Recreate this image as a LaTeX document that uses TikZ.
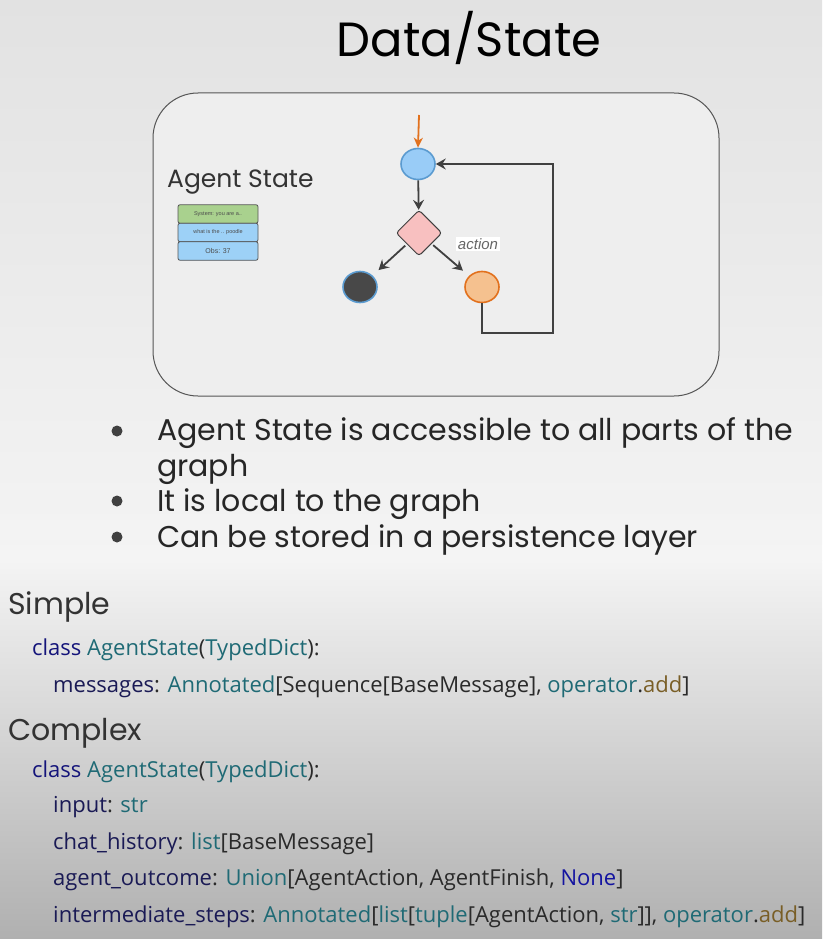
\documentclass[tikz,border=0pt]{standalone}
\usepackage{fontspec}
\setmainfont{Poppins}
\newfontfamily\codefont{Open Sans}
\newfontfamily\arialfont{Liberation Sans}
\usetikzlibrary{shapes.geometric,arrows.meta}
\definecolor{bgtop}{HTML}{E2E2E2}
\definecolor{bgmid}{HTML}{F4F4F4}
\definecolor{bgbot}{HTML}{B0B0B0}
\definecolor{boxfill}{HTML}{EEEEEE}
\definecolor{boxline}{HTML}{555555}
\definecolor{msggreen}{HTML}{A9D18E}
\definecolor{msgblue}{HTML}{9DD1F7}
\definecolor{nodeblue}{HTML}{99CCF7}
\definecolor{nodeblueline}{HTML}{5B9BD0}
\definecolor{nodepink}{HTML}{F8C0C0}
\definecolor{nodedark}{HTML}{484848}
\definecolor{nodeorange}{HTML}{F5C18F}
\definecolor{orangeline}{HTML}{E2711D}
\definecolor{arrowgray}{HTML}{404040}
\definecolor{ckw}{HTML}{14147A}
\definecolor{cty}{HTML}{1F6A75}
\definecolor{cvar}{HTML}{1A1A55}
\definecolor{cfn}{HTML}{795E26}
\definecolor{cnone}{HTML}{1414A0}
\definecolor{cplain}{HTML}{2A2A2A}
\newcommand{\kw}[1]{\textcolor{ckw}{#1}}
\newcommand{\ty}[1]{\textcolor{cty}{#1}}
\newcommand{\va}[1]{\textcolor{cvar}{#1}}
\newcommand{\fn}[1]{\textcolor{cfn}{#1}}
\newcommand{\nn}[1]{\textcolor{cnone}{#1}}
\begin{document}
\begin{tikzpicture}[x=1pt,y=-1pt,
  msgbox/.style={draw=boxline, line width=0.8, rounded corners=2, minimum width=80, minimum height=18.5, inner sep=0, font=\arialfont\fontsize{5.5}{6}\selectfont, text=black!70},
  gnode/.style={ellipse, minimum width=34, minimum height=31, line width=1.6, inner sep=0},
  arr/.style={draw=arrowgray, line width=1.8, -{Stealth[length=10,width=11,inset=3.5]}},
  loopline/.style={draw=arrowgray, line width=1.8},
  bullettext/.style={anchor=base west, inner sep=0, font=\fontsize{30}{32}\selectfont, text=black!85},
  head/.style={anchor=base west, inner sep=0, font=\fontsize{30}{32}\selectfont, text=black!80},
  code/.style={anchor=base west, inner sep=0, font=\codefont\fontsize{22}{24}\selectfont, text=cplain},
  dot/.style={circle, fill=black!75, minimum size=11, inner sep=0}
]
\useasboundingbox (0,0) rectangle (822,939);
\shade[top color=bgtop,bottom color=bgmid] (0,0) rectangle (822,560);
\shade[top color=bgmid,bottom color=bgbot] (0,560) rectangle (822,939);

\node[anchor=base, inner sep=0, font=\fontsize{48}{52}\selectfont, text=black] (title) at (469,57) {Data/State};

\draw[rounded corners=45, fill=boxfill, draw=boxline, line width=1] (153,93) rectangle (719,396);

\node[anchor=base west, inner sep=0, font=\fontsize{25}{28}\selectfont, text=black!80] (aslabel) at (167,187) {Agent State};

\node[msgbox, fill=msggreen] (m1) at (218,214) {System: you are a..};
\node[msgbox, fill=msgblue] (m2) at (218,232.5) {what is the .. poodle};
\node[msgbox, fill=msgblue, font=\arialfont\fontsize{7}{8}\selectfont] (m3) at (218,251) {Obs: 37};

\coordinate (entry) at (419,115);
\node[gnode, fill=nodeblue, draw=nodeblueline] (start) at (418,164) {};
\node[diamond, minimum width=46, minimum height=46, fill=nodepink, draw=arrowgray, line width=1, rounded corners=3, inner sep=0] (dec) at (419,233) {};
\node[gnode, fill=nodedark, draw=nodeblueline] (fin) at (360,287) {};
\node[gnode, fill=nodeorange, draw=orangeline] (act) at (482,287) {};
\node[fill=white, inner sep=1.5, font=\arialfont\itshape\fontsize{15}{16}\selectfont, text=black!60] (lbl) at (478,244) {action};

\draw[draw=orangeline, line width=1.8, -{Stealth[length=10,width=9,inset=3]}] (entry) -- (start.north);
\draw[arr] (start) -- (dec);
\draw[arr, shorten <=2, shorten >=8] (dec) -- (fin);
\draw[arr, shorten <=2, shorten >=8] (dec) -- (act);
\coordinate (lc) at (553,333);
\draw[loopline, -{Stealth[length=10,width=11,inset=3.5]}, line join=miter] (act.south) |- (lc) |- (start.east);

\node[dot] (d1) at (117,431) {};
\node[dot] (d2) at (117,501) {};
\node[dot] (d3) at (117,537) {};
\node[bullettext] (b1) at (157,440) {Agent State is accessible to all parts of the};
\node[bullettext] (b1b) at (157,476) {graph};
\node[bullettext] (b2) at (157,511) {It is local to the graph};
\node[bullettext] (b3) at (157,547) {Can be stored in a persistence layer};

\node[head] (simple) at (8,614) {Simple};
\node[code] (c1) at (32,655) {\kw{class} \ty{AgentState}(\ty{TypedDict}):};
\node[code] (c2) at (53,692) {\va{messages}: \ty{Annotated}[Sequence[BaseMessage], \ty{operator}.\fn{add}]};

\node[head] (complex) at (8,740) {Complex};
\node[code] (c3) at (32,777) {\kw{class} \ty{AgentState}(\ty{TypedDict}):};
\node[code] (c4) at (53,812) {\va{input}: \ty{str}};
\node[code] (c5) at (53,849) {\va{chat\_history}: \ty{list}[BaseMessage]};
\node[code] (c6) at (53,885) {\va{agent\_outcome}: \ty{Union}[AgentAction, AgentFinish, \nn{None}]};
\node[code] (c7) at (53,922) {\va{intermediate\_steps}: \ty{Annotated}[\ty{list}[\ty{tuple}[AgentAction, \ty{str}]], \ty{operator}.\fn{add}]};
\end{tikzpicture}
\end{document}
